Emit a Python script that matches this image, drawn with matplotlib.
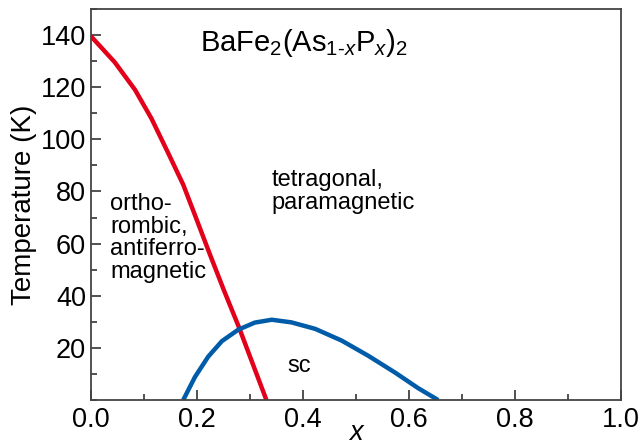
import numpy as np
import matplotlib.pyplot as plt
from matplotlib.ticker import MultipleLocator

plt.rcParams['font.family'] = 'Liberation Sans'
plt.rcParams['mathtext.fontset'] = 'custom'
plt.rcParams['mathtext.rm'] = 'Liberation Sans'
plt.rcParams['mathtext.it'] = 'Liberation Sans:italic'

# structural / magnetic transition (red)
x_s = [0.0, 0.045, 0.083, 0.114, 0.145, 0.174, 0.196, 0.226, 0.251, 0.279, 0.305, 0.331]
t_s = [139.5, 129.5, 119, 108, 95, 82.6, 71, 55, 42, 28, 14, 0]

# superconducting dome (blue)
x_c = [0.174, 0.196, 0.221, 0.247, 0.278, 0.309, 0.341, 0.378, 0.423, 0.473, 0.523, 0.574, 0.617, 0.655]
t_c = [0, 8.8, 16.6, 22.6, 27.0, 29.7, 30.8, 29.8, 27.3, 22.8, 17, 10.5, 4.6, 0]

fig = plt.figure(figsize=(6.43, 4.45), dpi=100)
ax = fig.add_axes([0.1415, 0.101, 0.8243, 0.879])

ax.plot(x_s, t_s, color='#e2001a', lw=3.2, solid_capstyle='butt', solid_joinstyle='round')
ax.plot(x_c, t_c, color='#005ca8', lw=3.2, solid_capstyle='butt', solid_joinstyle='round')

ax.set_xlim(0, 1.0)
ax.set_ylim(0, 150)
ax.set_xticks([0, 0.2, 0.4, 0.6, 0.8, 1.0])
ax.set_xticklabels(['0.0', '0.2', '0.4', '0.6', '0.8', '1.0'])
ax.set_yticks([20, 40, 60, 80, 100, 120, 140])
ax.xaxis.set_minor_locator(MultipleLocator(0.1))
ax.yaxis.set_minor_locator(MultipleLocator(10))
ax.tick_params(which='both', direction='in', top=False, right=False,
               labelsize=19.5, color='#333333', width=1.2)
ax.tick_params(which='major', length=7)
ax.tick_params(which='minor', length=4)
ax.tick_params(axis='x', which='major', pad=5)
ax.tick_params(axis='y', which='major', pad=3.5)
for s in ax.spines.values():
    s.set_color('#444444')
    s.set_linewidth(1.3)

ax.set_xlabel('x', fontsize=19.5, style='italic', va='center')
ax.xaxis.set_label_coords(0.5, -0.083)
ax.set_ylabel('Temperature (K)', fontsize=20, labelpad=3)

ax.text(0.205, 137, r'BaFe$_2$(As$_{1\text{-}x}$P$_x$)$_2$', fontsize=21, va='center')
ax.text(0.34, 88.5, 'tetragonal,\nparamagnetic', fontsize=17, va='top', linespacing=1.05)
ax.text(0.036, 79.5, 'ortho-\nrombic,\nantiferro-\nmagnetic', fontsize=17, va='top', linespacing=1.05)
ax.text(0.371, 13, 'sc', fontsize=17, va='center')

fig.savefig('out.png', dpi=100)
